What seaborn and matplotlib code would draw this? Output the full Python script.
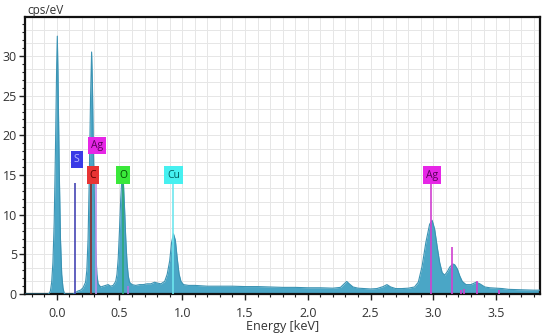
import numpy as np
import pandas as pd
import matplotlib
matplotlib.use("Agg")
import matplotlib.pyplot as plt
from matplotlib.ticker import MultipleLocator
import seaborn as sns

# ---- spectrum data ----
energy = [-0.25, -0.07, -0.06, -0.05, -0.04, -0.03, -0.02, -0.01, 0.0, 0.005, 0.01, 0.02, 0.03,
          0.04, 0.05, 0.06, 0.07, 0.13, 0.15, 0.17, 0.19, 0.21, 0.23, 0.24, 0.25, 0.26,
          0.27, 0.278, 0.285, 0.29, 0.30, 0.31, 0.32, 0.33, 0.35, 0.37, 0.39, 0.41, 0.43,
          0.45, 0.47, 0.48, 0.49, 0.50, 0.51, 0.52, 0.525, 0.53, 0.54, 0.55, 0.56, 0.57,
          0.58, 0.60, 0.63, 0.66, 0.69, 0.72, 0.75, 0.78, 0.80, 0.83, 0.86, 0.88, 0.90,
          0.915, 0.93, 0.945, 0.96, 0.975, 0.99, 1.01, 1.05, 1.1, 1.2, 1.3, 1.4, 1.5, 1.6,
          1.7, 1.8, 1.9, 2.0, 2.1, 2.2, 2.26, 2.29, 2.31, 2.33, 2.36, 2.4, 2.45, 2.5, 2.55,
          2.6, 2.63, 2.66, 2.7, 2.75, 2.8, 2.85, 2.88, 2.91, 2.94, 2.97, 2.99, 3.01, 3.03,
          3.05, 3.07, 3.09, 3.11, 3.13, 3.155, 3.17, 3.19, 3.21, 3.23, 3.26, 3.3, 3.34,
          3.37, 3.41, 3.45, 3.5, 3.55, 3.6, 3.7, 3.8, 3.85]
counts = [0, 0, 0.1, 0.4, 1.5, 4, 9, 18, 29, 32.5, 28, 16, 7,
          2.5, 0.8, 0.1, 0, 0, 0.2, 0.4, 0.5, 0.8, 1.5, 3, 7, 15,
          25, 30.5, 26, 20, 12, 6, 2.5, 1.3, 0.9, 1.0, 1.1, 1.2, 1.0,
          1.1, 1.6, 2.5, 4.5, 8, 12, 14.8, 15.2, 14.5, 11, 7, 4, 2.3,
          1.5, 1.2, 1.1, 1.2, 1.2, 1.3, 1.3, 1.5, 1.4, 1.3, 1.6, 2.5, 4.2,
          6.5, 7.6, 6.8, 4.5, 2.5, 1.6, 1.2, 1.1, 1.1, 1.0, 1.0, 1.0, 0.95, 0.95,
          0.9, 0.85, 0.85, 0.8, 0.8, 0.75, 0.85, 1.3, 1.6, 1.3, 0.9, 0.75, 0.7, 0.65, 0.7,
          0.95, 1.2, 0.9, 0.7, 0.7, 0.75, 0.9, 1.5, 3.5, 6.5, 8.8, 9.3, 8.2, 6.0,
          4.0, 2.7, 2.4, 2.8, 3.4, 3.8, 3.7, 3.2, 2.3, 1.6, 1.2, 1.2, 1.5,
          1.3, 0.9, 0.8, 0.75, 0.7, 0.6, 0.55, 0.5, 0.5]

# ---- element marker lines ----
line_energy = [0.149, 0.277, 0.311, 0.525, 0.93, 2.984, 3.151, 3.348, 3.22, 3.24, 3.52, 0.57]
line_height = [14, 14, 14, 14, 14, 14.5, 6, 1.6, 0.5, 0.6, 0.5, 1.0]
line_color = ["#4646b4", "#8b2a2a", "#b890e8", "#2ca878", "#6ee6ee", "#d040d0", "#d040d0",
              "#d040d0", "#d040d0", "#d040d0", "#d040d0", "#b070e0"]

# ---- labels ----
label_text = ["S", "Ag", "C", "O", "Cu", "Ag"]
label_x = [0.16, 0.32, 0.29, 0.53, 0.93, 2.99]
label_y = [17.0, 18.7, 15.0, 15.0, 15.0, 15.0]
label_face = ["#3a3ae6", "#e626e6", "#e83434", "#3ae83a", "#46f0f0", "#e626e6"]
label_fg = ["#b8b8ff", "#5a005a", "#5a0000", "#004800", "#006060", "#5a005a"]

sns.set_theme(style="white")
plt.rcParams["font.family"] = ["Open Sans", "DejaVu Sans"]

fig = plt.figure(figsize=(5.5, 3.35), dpi=100)
ax = fig.add_axes([0.046, 0.122, 0.936, 0.827])

df = pd.DataFrame({"energy": energy, "counts": counts})
fill_c = "#4aa6c6"
ax.fill_between(df["energy"], df["counts"], 0, color=fill_c, linewidth=0, zorder=2)
sns.lineplot(data=df, x="energy", y="counts", ax=ax, color="#3b93b3", linewidth=0.8,
             zorder=3, estimator=None, sort=False)

for e, h, c in zip(line_energy, line_height, line_color):
    ax.vlines(e, 0, h, color=c, linewidth=1.2, zorder=4)

for t, x, y, fc, tc in zip(label_text, label_x, label_y, label_face, label_fg):
    ax.text(x, y, t, ha="center", va="center", fontsize=7.5, color=tc, zorder=6,
            bbox=dict(boxstyle="square,pad=0.3", facecolor=fc, edgecolor="none"))

ax.set_xlim(-0.25, 3.85)
ax.set_ylim(0, 34.9)
ax.xaxis.set_major_locator(MultipleLocator(0.5))
ax.xaxis.set_minor_locator(MultipleLocator(0.1))
ax.yaxis.set_major_locator(MultipleLocator(5))
ax.yaxis.set_minor_locator(MultipleLocator(1))
ax.xaxis.set_major_formatter(matplotlib.ticker.FormatStrFormatter("%.1f"))

# light grid
for gx in np.arange(-0.2, 3.85, 0.1):
    ax.axvline(gx, color="#e6e6e6", linewidth=0.7, zorder=0)
for gy in np.arange(5 / 3, 35, 5 / 3):
    ax.axhline(gy, color="#e6e6e6", linewidth=0.7, zorder=0)

ax.tick_params(axis="y", which="major", direction="out", length=4, width=1,
               color="#222222", labelsize=9, labelcolor="#333333", pad=2)
ax.tick_params(axis="x", which="major", direction="out", length=4, width=1,
               color="#222222", labelsize=9, labelcolor="#333333", pad=5)
ax.tick_params(axis="both", which="minor", direction="out", length=2.5, width=0.8,
               color="#222222")
ax.tick_params(bottom=True, left=True, which="both")
for s in ax.spines.values():
    s.set_color("#111111")
    s.set_linewidth(1.6)

ax.set_xlabel("Energy [keV]", fontsize=9, color="#333333", labelpad=0)
ax.set_ylabel("")
fig.text(0.05, 0.97, "cps/eV", fontsize=8.5, color="#333333", ha="left", va="center")

fig.savefig("out.png", dpi=100)
